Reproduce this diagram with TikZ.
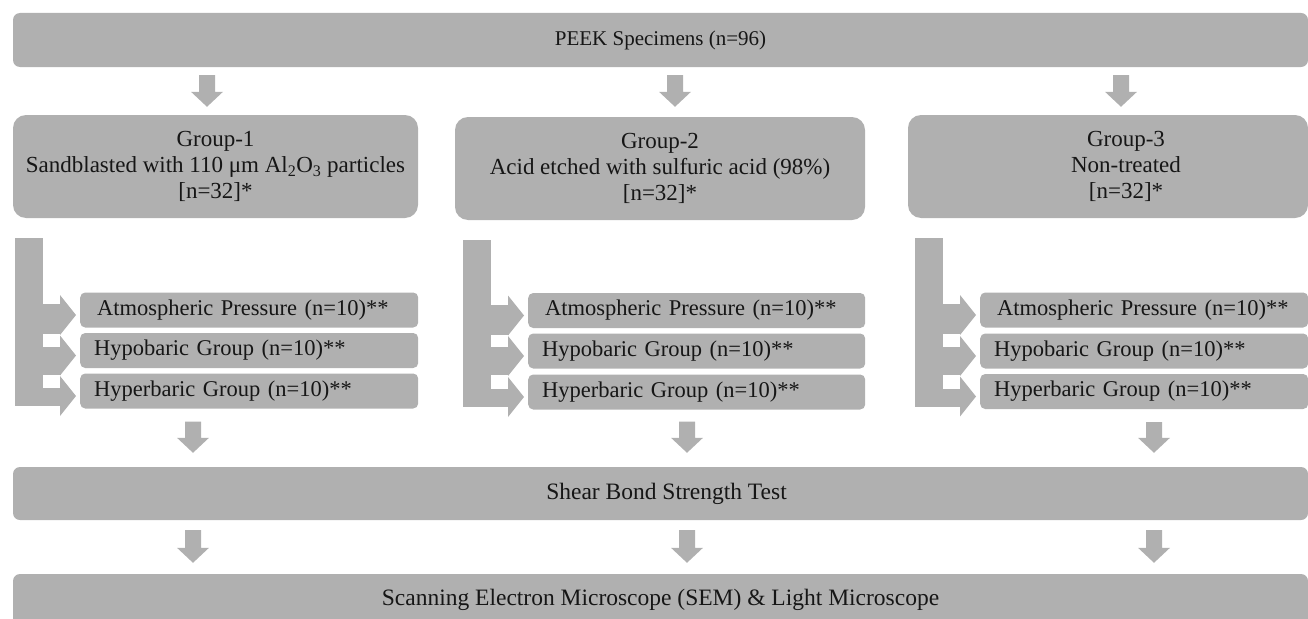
\documentclass[tikz,border=0pt]{standalone}
\usepackage{fontspec}
\setmainfont{Liberation Serif}
\usetikzlibrary{calc}
\definecolor{boxc}{RGB}{176,176,176}
\definecolor{txtc}{RGB}{22,22,22}
% block arrow pointing down: from #1 to #2, start gap #3, end gap #4
\newcommand{\blockdn}[4]{%
  \fill[boxc] let \p1=(#1), \p2=(#2) in
    (\x1-8pt,\y1-#3) -- (\x1+8pt,\y1-#3) -- (\x1+8pt,\y2+#4+15pt) --
    (\x1+16pt,\y2+#4+15pt) -- (\x1,\y2+#4) -- (\x1-16pt,\y2+#4+15pt) --
    (\x1-8pt,\y2+#4+15pt) -- cycle;}
% one right-pointing arrow of a bracket, into sub box #1, shaft from #2 to #3 (relative to centre)
\newcommand{\branch}[3]{%
  \fill[boxc] let \p1=(#1.west) in (\x1-38pt,\y1+#2) rectangle (\x1-19pt,\y1-#3);
  \fill[boxc] let \p1=(#1.west) in (\x1-20pt,\y1+15pt) -- (\x1-4pt,\y1-5pt) -- (\x1-20pt,\y1-25pt) -- cycle;}
% bracket: group box #1, sub boxes #2 #3 #4
\newcommand{\bracketset}[4]{%
  \fill[boxc] let \p1=(#2.west), \p2=(#1.south), \p3=(#4.west) in
    (\x1-65pt,\y2-20pt) rectangle (\x1-37pt,\y3-15pt);
  \branch{#2}{6pt}{24pt}
  \branch{#3}{4pt}{24pt}
  \branch{#4}{3pt}{15pt}}
\begin{document}
\begin{tikzpicture}[x=1pt,y=1pt,
  base/.style={fill=boxc, text=txtc, inner sep=0pt, draw=none},
  wide/.style={base, rounded corners=7pt, minimum width=1295pt, minimum height=#1,
    font=\fontsize{21}{25}\selectfont},
  gbox/.style={base, rounded corners=13pt, minimum height=103pt, minimum width=#1,
    align=center, font=\fontsize{23}{26}\selectfont},
  gtext/.style={text=txtc, inner sep=0pt, align=center, font=\fontsize{23}{26}\selectfont},
  sbox/.style={base, rounded corners=5pt, minimum height=35pt, anchor=west, align=left,
    inner xsep=14pt, text width=#1, font=\fontsize{22.5}{26}\selectfont}]
\useasboundingbox (0,0) rectangle (1308,-618);
\clip (0,0) rectangle (1308,-618);

% main boxes
\node[wide=54pt] (top) at (660.5,-40) {PEEK Specimens (n=96)};
\node[wide=53pt, font=\fontsize{23.5}{27}\selectfont] (shear) at (660.5,-493.5) {\hspace*{12pt}Shear Bond Strength Test};
\node[wide=51pt, font=\fontsize{23.5}{27}\selectfont] (sem) at (660.5,-599.5) {Scanning Electron Microscope (SEM) \& Light Microscope};

% group boxes
\node[gbox=405pt] (g1) at (215.5,-166.5) {Group-1\\Sandblasted with 110 μm Al\textsubscript{2}O\textsubscript{3} particles\\{}[n=32]*};
\node[gbox=410pt] (g2) at (660,-168.5) {Group-2\\Acid etched with sulfuric acid (98\%)\\{}[n=32]*};
\node[gbox=400pt] (g3) at (1108,-166.5) {};
\node[gtext] (g3t) at ([xshift=18pt]g3.center) {Group-3\\Non-treated\\{}[n=32]*};

% sub boxes
\node[sbox=310pt] (s11) at (80,-310) {\hspace*{3pt}Atmospheric Pressure (n=10)**};
\node[sbox=310pt] (s12) at (80,-350.5) {Hypobaric Group (n=10)**};
\node[sbox=310pt] (s13) at (80,-391) {Hyperbaric Group (n=10)**};
\node[sbox=309pt] (s21) at (528,-310.5) {\hspace*{3pt}Atmospheric Pressure (n=10)**};
\node[sbox=309pt] (s22) at (528,-351) {Hypobaric Group (n=10)**};
\node[sbox=309pt] (s23) at (528,-392) {Hyperbaric Group (n=10)**};
\node[sbox=300pt] (s31) at (980,-310) {\hspace*{3pt}Atmospheric Pressure (n=10)**};
\node[sbox=300pt] (s32) at (980,-351) {Hypobaric Group (n=10)**};
\node[sbox=300pt] (s33) at (980,-391.5) {Hyperbaric Group (n=10)**};

% arrow x positions
\coordinate (ax1) at (207,0);
\coordinate (ax2) at (675,0);
\coordinate (ax3) at (1121,0);
\coordinate (bx1) at (193,0);
\coordinate (bx2) at (687,0);
\coordinate (bx3) at (1154,0);

% top arrows
\blockdn{top.south -| ax1}{g1.north -| ax1}{8pt}{8pt}
\blockdn{top.south -| ax2}{g2.north -| ax2}{8pt}{10pt}
\blockdn{top.south -| ax3}{g3.north -| ax3}{8pt}{8pt}

% brackets
\bracketset{g1}{s11}{s12}{s13}
\bracketset{g2}{s21}{s22}{s23}
\bracketset{g3}{s31}{s32}{s33}

% lower arrows
\blockdn{s13.south -| bx1}{shear.north -| bx1}{13pt}{14pt}
\blockdn{s23.south -| bx2}{shear.north -| bx2}{12pt}{14pt}
\blockdn{s33.south -| bx3}{shear.north -| bx3}{13pt}{14pt}
\blockdn{shear.south -| bx1}{sem.north -| bx1}{10pt}{11pt}
\blockdn{shear.south -| bx2}{sem.north -| bx2}{10pt}{11pt}
\blockdn{shear.south -| bx3}{sem.north -| bx3}{10pt}{11pt}
\end{tikzpicture}
\end{document}
